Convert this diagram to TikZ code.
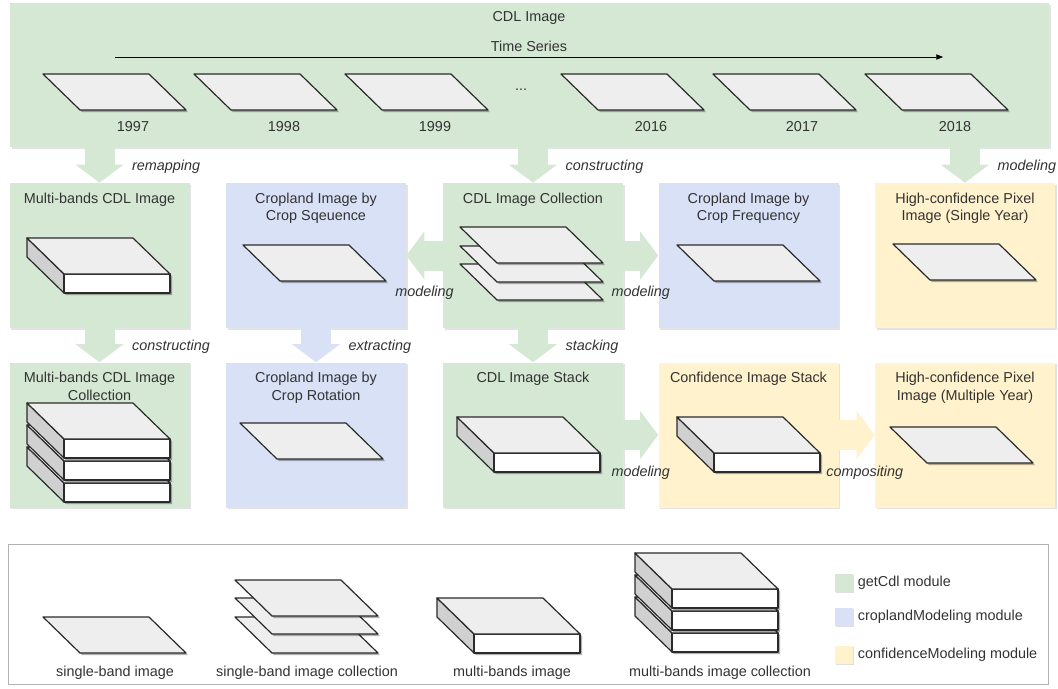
\documentclass[tikz,border=0pt]{standalone}
\usepackage{fontspec}
\setmainfont{Liberation Sans}
\usepackage{xcolor}
\usepackage{tikz}
\usetikzlibrary{arrows.meta, positioning, shadows}
\definecolor{cdlgreen}{HTML}{D5E8D4}
\definecolor{cropblue}{HTML}{D9E1F7}
\definecolor{confyellow}{HTML}{FFF2CC}
\definecolor{txtgrey}{HTML}{333333}
\definecolor{facegrey}{HTML}{EEEEEE}
\definecolor{sidegrey}{HTML}{D0D0D0}
\definecolor{edgegrey}{HTML}{2B2B2B}

\begin{document}
\begin{tikzpicture}[x=0.75pt, y=-0.75pt, >=Stealth,
  font=\fontsize{10.8}{12.8}\selectfont, text=txtgrey,
  module/.style={minimum width=135pt, minimum height=108.75pt, inner sep=0pt,
    drop shadow={shadow xshift=1.2pt, shadow yshift=-1.2pt, opacity=0.22}},
  getcdl/.style={module, fill=cdlgreen},
  cropmod/.style={module, fill=cropblue},
  confmod/.style={module, fill=confyellow},
  title/.style={anchor=north, align=center, inner sep=0pt},
  lbl/.style={font=\fontsize{10.8}{12.8}\selectfont\itshape, inner sep=0pt, outer sep=0pt},
  down/.style={anchor=west, xshift=24.5pt, yshift=-1.5pt},
  under/.style={yshift=-28pt},
  flow/.style={line width=22.5pt, -{Triangle[length=13.5pt, width=36pt, line width=0pt]}},
  gflow/.style={flow, draw=cdlgreen},
  bflow/.style={flow, draw=cropblue},
  yflow/.style={flow, draw=confyellow},
  swatch/.style={minimum size=13.5pt, inner sep=0pt,
    drop shadow={shadow xshift=0.8pt, shadow yshift=-0.8pt, opacity=0.25}},
  imgline/.style={draw=edgegrey, line width=0.9pt, line join=round},
  band/.pic={
    \fill[black, opacity=0.3] (2,2) -- (108,2) -- (145,38) -- (39,38) -- cycle;
    \filldraw[imgline, fill=facegrey] (0,0) -- (106,0) -- (143,36) -- (37,36) -- cycle;},
  slab/.pic={
    \fill[black, opacity=0.3] (2,2) -- (108,2) -- (145,38) -- (145,57) -- (39,57) -- (2,21) -- cycle;
    \filldraw[imgline, fill=sidegrey] (0,0) -- (37,36) -- (37,55) -- (0,19) -- cycle;
    \filldraw[imgline, fill=white] (37,36) rectangle (143,55);
    \filldraw[imgline, fill=facegrey] (0,0) -- (106,0) -- (143,36) -- (37,36) -- cycle;}]
\useasboundingbox (0,0) rectangle (1058,689);

% time series of CDL images
\node[getcdl, minimum width=779.25pt, minimum height=108pt] (cdl) at (529.5,75) {};
\node (cdlt) at (529,18) {CDL Image};
\node (ts) at (529,46) {Time Series};
\coordinate (tsa) at (115,57);
\coordinate (tsb) at (943,57);
\draw[-{Triangle[length=5pt, width=4pt]}] (tsa) -- (tsb);
\pic at (43,74) {band};
\pic at (194,74) {band};
\pic at (345,74) {band};
\pic at (561,74) {band};
\pic at (713,74) {band};
\pic at (865,74) {band};
\node (y1997) at (133,127) {1997};
\node (y1998) at (284,127) {1998};
\node (y1999) at (435,127) {1999};
\node (gap) at (521,90) {...};
\node (y2016) at (651,127) {2016};
\node (y2017) at (802,127) {2017};
\node (y2018) at (955,127) {2018};

% first row
\node[getcdl] (mb) at (99.5,255.5) {};
\node[cropmod] (seq) at (316,255.5) {};
\node[getcdl] (coll) at (533,255.5) {};
\node[cropmod] (freq) at (748.5,255.5) {};
\node[confmod] (single) at (965,255.5) {};
\node[title] (mbt) at ([yshift=-7.5pt]mb.north) {Multi-bands CDL Image};
\node[title] (seqt) at ([yshift=-7.5pt]seq.north) {Cropland Image by\\Crop Sqeuence};
\node[title] (collt) at ([yshift=-7.5pt]coll.north) {CDL Image Collection};
\node[title] (freqt) at ([yshift=-7.5pt]freq.north) {Cropland Image by\\Crop Frequency};
\node[title] (singlet) at ([yshift=-7.5pt]single.north) {High-confidence Pixel\\Image (Single Year)};
\pic at (27,238) {slab};
\pic at (243,245) {band};
\pic at (460,264) {band};
\pic at (460,246) {band};
\pic at (460,227) {band};
\pic at (677,245) {band};
\pic at (893,244) {band};

% second row
\node[getcdl] (mbc) at (99.5,435) {};
\node[cropmod] (rot) at (316,435) {};
\node[getcdl] (stack) at (533,435) {};
\node[confmod] (conf) at (748.5,435) {};
\node[confmod] (multi) at (965,435) {};
\node[title] (mbct) at ([yshift=-7.5pt]mbc.north) {Multi-bands CDL Image\\Collection};
\node[title] (rott) at ([yshift=-7.5pt]rot.north) {Cropland Image by\\Crop Rotation};
\node[title] (stackt) at ([yshift=-7.5pt]stack.north) {CDL Image Stack};
\node[title] (conft) at ([yshift=-7.5pt]conf.north) {Confidence Image Stack};
\node[title] (multit) at ([yshift=-7.5pt]multi.north) {High-confidence Pixel\\Image (Multiple Year)};
\pic at (27,447) {slab};
\pic at (27,425) {slab};
\pic at (27,403) {slab};
\pic at (240,423) {band};
\pic at (457,417) {slab};
\pic at (677,417) {slab};
\pic at (890,427) {band};

% block arrows
\draw[gflow] (cdl.south -| mb) -- node[lbl, down] {remapping} (mb.north);
\draw[gflow] (cdl.south -| coll) -- node[lbl, down] {constructing} (coll.north);
\draw[gflow] (cdl.south -| single) -- node[lbl, down] {modeling} (single.north);
\draw[gflow] (mb.south) -- node[lbl, down] {constructing} (mbc.north);
\draw[bflow] (seq.south) -- node[lbl, down] {extracting} (rot.north);
\draw[gflow] (coll.south) -- node[lbl, down] {stacking} (stack.north);
\draw[gflow] (coll.west) -- node[lbl, under] {modeling} (seq.east);
\draw[gflow] (coll.east) -- node[lbl, under] {modeling} (freq.west);
\draw[gflow] (stack.east) -- node[lbl, under] {modeling} (conf.west);
\draw[yflow] (conf.east) -- node[lbl, under, xshift=6pt] {compositing} (multi.west);

% legend
\node[draw=black!30, fill=white, minimum width=780pt, minimum height=105pt, inner sep=0pt] (legend) at (528,614) {};
\pic at (43,617) {band};
\pic at (235,617) {band};
\pic at (235,598) {band};
\pic at (235,580) {band};
\pic at (437,598) {slab};
\pic at (635,597) {slab};
\pic at (635,575) {slab};
\pic at (635,553) {slab};
\node (lsb) at (115,673) {single-band image};
\node (lsbc) at (307,673) {single-band image collection};
\node (lmb) at (512,673) {multi-bands image};
\node (lmbc) at (720,673) {multi-bands image collection};
\node[swatch, fill=cdlgreen] (kcdl) at (844,583) {};
\node[swatch, fill=cropblue] (kcrop) at (844,617) {};
\node[swatch, fill=confyellow] (kconf) at (844,655) {};
\node[right=0pt of kcdl] (tcdl) {getCdl module};
\node[right=0pt of kcrop] (tcrop) {croplandModeling module};
\node[right=0pt of kconf] (tconf) {confidenceModeling module};
\end{tikzpicture}
\end{document}
